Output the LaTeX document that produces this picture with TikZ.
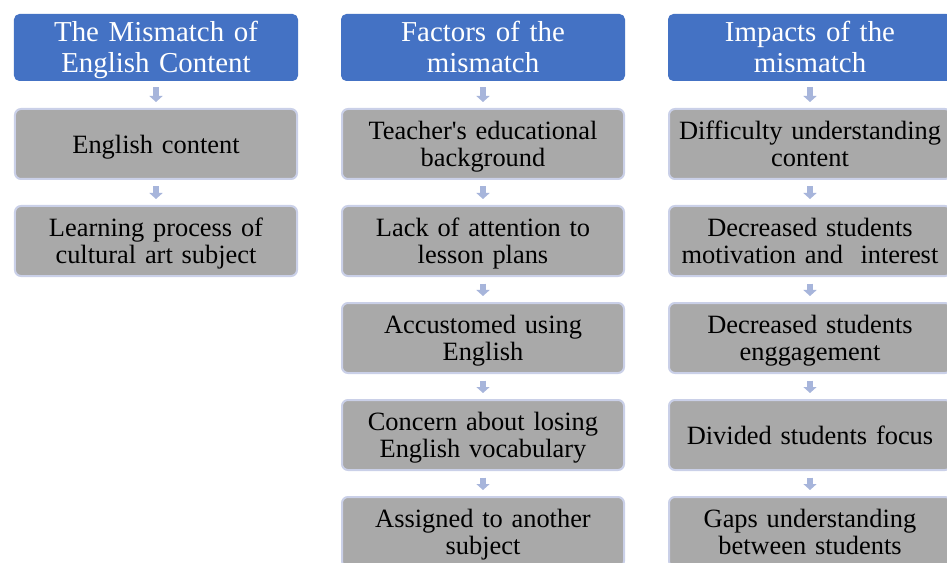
\documentclass[tikz,border=0pt]{standalone}
\usepackage{fontspec}
\setmainfont{Liberation Serif}
\usetikzlibrary{arrows.meta}
\definecolor{hdrblue}{HTML}{4472C4}
\definecolor{boxgray}{HTML}{A9A9A9}
\definecolor{boxedge}{HTML}{CAD0E8}
\definecolor{arrowblue}{HTML}{A7B5DB}
\tikzset{
  hdr/.style={rectangle, rounded corners=5bp, fill=hdrblue, draw=hdrblue, line width=1bp,
    minimum width=283bp, minimum height=66bp, text width=275bp, align=center, inner sep=0pt,
    text=white, font=\fontsize{29}{31}\selectfont,
    execute at begin node={\rule{0pt}{25bp}},
    execute at end node={\rule[-6.5bp]{0pt}{6.5bp}}},
  item/.style={rectangle, rounded corners=6bp, fill=boxgray, draw=boxedge, line width=2bp,
    minimum width=282bp, minimum height=70bp, text width=275bp, align=center, inner sep=0pt,
    text=black, font=\fontsize{26.5}{27.5}\selectfont,
    execute at begin node={\rule{0pt}{24.3bp}},
    execute at end node={\rule[-6bp]{0pt}{6bp}}},
  conn/.style={draw=arrowblue, line width=6bp, -{Triangle[width=13bp,length=6bp]},
    shorten <=6.5bp, shorten >=6bp}
}
\begin{document}
\begin{tikzpicture}[x=1bp,y=-1bp]
\clip (0,0) rectangle (947,563);
\fill[white] (0,0) rectangle (947,563);
% column 1
\node[hdr] (h1) at (156,47.5) {The Mismatch of\\English Content};
\node[item] (a1) at (156,144) {English content};
\node[item] (a2) at (156,241) {Learning process of\\cultural art subject};
% column 2
\node[hdr] (h2) at (483,47.5) {Factors of the\\mismatch};
\node[item] (b1) at (483,144) {Teacher\textquotesingle s educational\\background};
\node[item] (b2) at (483,241) {Lack of attention to\\lesson plans};
\node[item] (b3) at (483,338) {Accustomed using\\English};
\node[item] (b4) at (483,435) {Concern about losing\\English vocabulary};
\node[item] (b5) at (483,532) {Assigned to another\\subject};
% column 3
\node[hdr] (h3) at (810,47.5) {Impacts of the\\mismatch};
\node[item] (c1) at (810,144) {Difficulty understanding\\content};
\node[item] (c2) at (810,241) {Decreased students\\motivation and\ \ interest};
\node[item] (c3) at (810,338) {Decreased students\\enggagement};
\node[item] (c4) at (810,435) {Divided students focus};
\node[item] (c5) at (810,532) {Gaps understanding\\between students};
% connectors
\draw[conn] (h1.south) -- (a1.north);
\draw[conn] (a1.south) -- (a2.north);
\draw[conn] (h2.south) -- (b1.north);
\draw[conn] (b1.south) -- (b2.north);
\draw[conn] (b2.south) -- (b3.north);
\draw[conn] (b3.south) -- (b4.north);
\draw[conn] (b4.south) -- (b5.north);
\draw[conn] (h3.south) -- (c1.north);
\draw[conn] (c1.south) -- (c2.north);
\draw[conn] (c2.south) -- (c3.north);
\draw[conn] (c3.south) -- (c4.north);
\draw[conn] (c4.south) -- (c5.north);
\end{tikzpicture}
\end{document}
